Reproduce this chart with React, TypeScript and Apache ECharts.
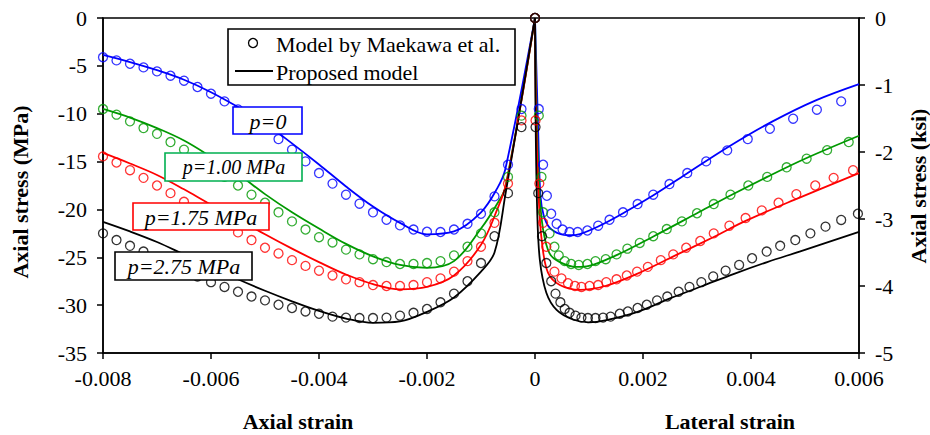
import React, { useEffect, useRef } from "react";
import * as echarts from "echarts";

const FONT = "Liberation Serif";

const xTicks = { min: -0.008, max: 0.006, interval: 0.002 };
const yLeftTicks = { min: -35, max: 0, interval: 5 };
const yRightTicks = { min: -5, max: 0, interval: 1 };

const seriesNames = ["p=0", "p=1.00 MPa", "p=1.75 MPa", "p=2.75 MPa"];
const seriesColors = ["#0000ff", "#009900", "#ff0000", "#000000"];
const boxColors = ["#0000ff", "#00b050", "#ff0000", "#000000"];

// Model by Maekawa et al. (circles)
const blueCirclesAxial = [[-0.008,-4.1],[-0.00775,-4.43],[-0.0075,-4.78],[-0.00725,-5.16],[-0.007,-5.58],[-0.00675,-6.03],[-0.0065,-6.55],[-0.00625,-7.21],[-0.006,-7.91],[-0.00575,-8.71],[-0.0055,-9.55],[-0.00525,-10.5],[-0.005,-11.55],[-0.00475,-12.65],[-0.0045,-13.76],[-0.00425,-14.98],[-0.004,-16.2],[-0.00375,-17.3],[-0.0035,-18.46],[-0.00325,-19.4],[-0.003,-20.3],[-0.00275,-21.08],[-0.0025,-21.67],[-0.00225,-22.1],[-0.002,-22.33],[-0.00175,-22.36],[-0.0015,-22.1],[-0.00125,-21.5],[-0.001,-20.45],[-0.00075,-18.64],[-0.0005,-15.33],[-0.00025,-9.51],[0,0]];
const blueCirclesLateral = [[0.00007,-9.51],[0.00015,-15.33],[0.00022,-18.57],[0.0003,-20.45],[0.0004,-21.5],[0.00051,-22.1],[0.00064,-22.36],[0.00079,-22.36],[0.00097,-22.2],[0.00117,-21.7],[0.00138,-21.08],[0.00163,-20.3],[0.0019,-19.44],[0.00219,-18.46],[0.00249,-17.35],[0.00282,-16.2],[0.00317,-14.98],[0.00356,-13.83],[0.00394,-12.65],[0.00435,-11.57],[0.00478,-10.52],[0.00522,-9.58],[0.00567,-8.71]];

const greenCirclesAxial = [[-0.008,-9.51],[-0.00775,-10.1],[-0.0075,-10.8],[-0.00725,-11.5],[-0.007,-12.1],[-0.00675,-12.96],[-0.0065,-13.76],[-0.00625,-14.7],[-0.006,-15.6],[-0.00575,-16.6],[-0.0055,-17.5],[-0.00525,-18.46],[-0.005,-19.3],[-0.00475,-20.3],[-0.0045,-21.25],[-0.00425,-22.1],[-0.004,-22.9],[-0.00375,-23.45],[-0.0035,-24.2],[-0.00325,-24.7],[-0.003,-25.2],[-0.00275,-25.5],[-0.0025,-25.7],[-0.00225,-25.7],[-0.002,-25.6],[-0.00175,-25.4],[-0.0015,-24.8],[-0.00125,-23.9],[-0.001,-22.5],[-0.00075,-20.3],[-0.0005,-16.6],[-0.00025,-10.2],[0,0]];
const greenCirclesLateral = [[0.00007,-10.2],[0.00012,-16.6],[0.00015,-20.3],[0.00027,-22.5],[0.00036,-23.9],[0.00044,-24.8],[0.00055,-25.4],[0.00067,-25.7],[0.00081,-25.8],[0.00097,-25.7],[0.00112,-25.4],[0.00131,-25.2],[0.00151,-24.7],[0.00171,-24.1],[0.00194,-23.5],[0.00219,-22.8],[0.00244,-22.05],[0.00272,-21.25],[0.003,-20.4],[0.00331,-19.44],[0.00362,-18.46],[0.00395,-17.5],[0.0043,-16.6],[0.00466,-15.6],[0.00503,-14.7],[0.00541,-13.8],[0.00581,-12.96]];

const redCirclesAxial = [[-0.008,-14.46],[-0.00775,-15.1],[-0.0075,-15.9],[-0.00725,-16.7],[-0.007,-17.5],[-0.00675,-18.3],[-0.0065,-19.2],[-0.00625,-20.0],[-0.006,-20.8],[-0.00575,-21.6],[-0.0055,-22.4],[-0.00525,-23.2],[-0.005,-24.0],[-0.00475,-24.6],[-0.0045,-25.3],[-0.00425,-25.9],[-0.004,-26.4],[-0.00375,-26.9],[-0.0035,-27.3],[-0.00325,-27.6],[-0.003,-27.9],[-0.00275,-28.0],[-0.0025,-28.0],[-0.00225,-27.9],[-0.002,-27.6],[-0.00175,-27.2],[-0.0015,-26.5],[-0.00125,-25.4],[-0.001,-23.9],[-0.00075,-21.4],[-0.0005,-17.3],[-0.00025,-10.7],[0,0]];
const redCirclesLateral = [[0.00001,-10.7],[0.00008,-17.3],[0.00015,-21.4],[0.00021,-23.9],[0.00036,-26.5],[0.00049,-27.2],[0.00061,-27.7],[0.00074,-28.0],[0.00086,-28.1],[0.00101,-28.0],[0.00117,-27.9],[0.00132,-27.6],[0.00151,-27.3],[0.0017,-26.9],[0.00189,-26.5],[0.00209,-26.0],[0.00233,-25.3],[0.00256,-24.7],[0.0028,-24.0],[0.00306,-23.3],[0.00331,-22.5],[0.0036,-21.7],[0.0039,-20.9],[0.0042,-20.1],[0.00451,-19.3],[0.00484,-18.4],[0.00519,-17.5],[0.00553,-16.7],[0.00589,-15.9]];

const blackCirclesAxial = [[-0.008,-22.5],[-0.00775,-23.2],[-0.0075,-23.8],[-0.00725,-24.4],[-0.007,-25.1],[-0.00675,-25.8],[-0.0065,-26.4],[-0.00625,-27.0],[-0.006,-27.6],[-0.00575,-28.1],[-0.0055,-28.6],[-0.00525,-29.1],[-0.005,-29.5],[-0.00475,-29.96],[-0.0045,-30.3],[-0.00425,-30.66],[-0.004,-30.9],[-0.00375,-31.2],[-0.0035,-31.3],[-0.00325,-31.35],[-0.003,-31.35],[-0.00275,-31.3],[-0.0025,-31.1],[-0.00225,-30.8],[-0.002,-30.4],[-0.00175,-29.7],[-0.0015,-28.8],[-0.00125,-27.5],[-0.001,-25.6],[-0.00075,-22.8],[-0.0005,-18.3],[-0.00025,-11.4],[0,0]];
const blackCirclesLateral = [[0.00001,-11.4],[0.00006,-18.3],[0.00013,-22.8],[0.00021,-25.6],[0.0003,-27.5],[0.00038,-28.8],[0.00047,-29.7],[0.00055,-30.4],[0.00064,-30.8],[0.00075,-31.1],[0.00086,-31.3],[0.00098,-31.35],[0.00112,-31.35],[0.00126,-31.3],[0.0014,-31.2],[0.00157,-30.9],[0.00172,-30.66],[0.0019,-30.3],[0.00207,-29.96],[0.00226,-29.5],[0.00245,-29.1],[0.00266,-28.6],[0.00286,-28.1],[0.00308,-27.6],[0.0033,-27.0],[0.00353,-26.4],[0.00378,-25.8],[0.00402,-25.1],[0.00429,-24.4],[0.00454,-23.8],[0.00482,-23.2],[0.0051,-22.5],[0.00538,-21.8],[0.00567,-21.1],[0.00598,-20.45]];

// Proposed model (lines)
const blueLineAxial = [[-0.008,-3.85],[-0.0075,-4.6],[-0.007,-5.45],[-0.0065,-6.45],[-0.006,-7.75],[-0.0055,-9.3],[-0.005,-11.0],[-0.0045,-13.1],[-0.004,-15.3],[-0.0035,-17.6],[-0.003,-19.7],[-0.0025,-21.4],[-0.002,-22.6],[-0.0015,-22.3],[-0.001,-20.3],[-0.0007,-17.8],[-0.00055,-15.8],[0,0]];
const blueLineLateral = [[0,0],[0.00006,-12],[0.0001,-18.5],[0.00016,-20.6],[0.00027,-21.9],[0.00046,-22.57],[0.00064,-22.7],[0.00083,-22.57],[0.00117,-21.78],[0.0016,-20.5],[0.0022,-18.5],[0.0028,-16.3],[0.0036,-13.4],[0.0044,-10.8],[0.0052,-8.6],[0.006,-6.9]];
const greenLineAxial = [[-0.008,-9.5],[-0.0075,-10.4],[-0.007,-11.5],[-0.0065,-12.8],[-0.006,-14.5],[-0.0055,-16.3],[-0.005,-18.4],[-0.0045,-20.3],[-0.004,-22.0],[-0.0035,-23.6],[-0.003,-24.9],[-0.0025,-25.8],[-0.002,-26.1],[-0.0015,-25.4],[-0.001,-22.0],[-0.0007,-19.4],[-0.00055,-17.7],[0,0]];
const greenLineLateral = [[0,0],[0.00003,-10],[0.00008,-18],[0.00015,-22.1],[0.00027,-24.6],[0.00046,-25.5],[0.00077,-26.0],[0.001,-25.9],[0.0015,-24.8],[0.0022,-22.8],[0.003,-20.4],[0.0036,-18.6],[0.0043,-16.6],[0.005,-14.7],[0.006,-12.3]];
const redLineAxial = [[-0.008,-14.1],[-0.0075,-15.2],[-0.007,-16.4],[-0.0065,-17.9],[-0.006,-19.5],[-0.0055,-21.0],[-0.005,-22.6],[-0.0045,-24.1],[-0.004,-25.5],[-0.0035,-26.8],[-0.003,-27.8],[-0.0025,-28.35],[-0.002,-28.1],[-0.0015,-26.9],[-0.001,-23.7],[-0.0007,-20.0],[-0.00052,-17.0],[0,0]];
const redLineLateral = [[0,0],[0.00002,-10],[0.00007,-19],[0.00013,-23.5],[0.00024,-26.6],[0.00046,-27.9],[0.00083,-28.4],[0.0013,-28.0],[0.0019,-26.7],[0.0026,-24.8],[0.0033,-22.9],[0.0039,-21.2],[0.0048,-19.0],[0.006,-16.2]];
const blackLineAxial = [[-0.008,-21.3],[-0.0075,-22.3],[-0.007,-23.4],[-0.0065,-24.7],[-0.006,-26.0],[-0.0055,-27.3],[-0.005,-28.5],[-0.0045,-29.6],[-0.004,-30.6],[-0.0035,-31.4],[-0.003,-31.85],[-0.0025,-31.7],[-0.002,-30.7],[-0.0015,-29.2],[-0.001,-26.5],[-0.00075,-24.5],[-0.00055,-18.5],[0,0]];
const blackLineLateral = [[0,0],[0.00001,-10],[0.00004,-20],[0.00009,-25.3],[0.00021,-28.7],[0.0004,-30.5],[0.0007,-31.5],[0.001,-31.8],[0.0013,-31.6],[0.0019,-30.7],[0.0025,-29.3],[0.0031,-28.0],[0.0037,-26.7],[0.0043,-25.5],[0.0049,-24.4],[0.006,-22.35]];

const circleSets = [
  [blueCirclesAxial, blueCirclesLateral],
  [greenCirclesAxial, greenCirclesLateral],
  [redCirclesAxial, redCirclesLateral],
  [blackCirclesAxial, blackCirclesLateral],
];
const lineSets = [
  [blueLineAxial, blueLineLateral],
  [greenLineAxial, greenLineLateral],
  [redLineAxial, redLineLateral],
  [blackLineAxial, blackLineLateral],
];

const legendTexts = ["Model by Maekawa et al.", "Proposed model"];
const xTitles = ["Axial strain", "Lateral strain"];
const yTitles = ["Axial stress (MPa)", "Axial stress (ksi)"];

export default function App() {
  const ref = useRef<HTMLDivElement>(null);
  useEffect(() => {
    if (!ref.current) return;
    const chart = echarts.init(ref.current, null, { renderer: "svg" });
    const axisCommon = {
      axisLine: { onZero: false, lineStyle: { color: "#000", width: 1.5 } },
      axisTick: { inside: false, length: 6, lineStyle: { color: "#000", width: 1.5 } },
      splitLine: { show: false },
    };
    const labelStyle = { fontSize: 22, fontFamily: FONT, color: "#000" };
    const series: any[] = [];
    lineSets.forEach((pair, i) => {
      pair.forEach((d) => {
        series.push({
          type: "line",
          data: d,
          showSymbol: false,
          symbol: "none",
          smooth: 0.35,
          lineStyle: { color: seriesColors[i], width: 1.8 },
          z: 2,
          silent: true,
        });
      });
    });
    circleSets.forEach((pair, i) => {
      pair.forEach((d) => {
        series.push({
          type: "scatter",
          data: d,
          symbol: "circle",
          symbolSize: 9,
          itemStyle: { color: "rgba(0,0,0,0)", borderColor: seriesColors[i], borderWidth: 1.3 },
          z: 3,
          silent: true,
        });
      });
    });

    const txt = (text: string, x: number, y: number, font: string, rotation = 0) => ({
      type: "text",
      x,
      y,
      rotation,
      z: 101,
      style: {
        text,
        font,
        fill: "#000",
        align: "center",
        verticalAlign: "middle",
        textAlign: "center",
        textVerticalAlign: "middle",
      },
    });
    const box = (x: number, y: number, w: number, h: number, color: string) => ({
      type: "rect",
      shape: { x, y, width: w, height: h },
      z: 100,
      style: { fill: "#fff", stroke: color, lineWidth: 1.6 },
    });

    const graphic: any[] = [
      box(228, 29, 287, 56, "#000"),
      { type: "circle", z: 101, shape: { cx: 253, cy: 43, r: 4.5 }, style: { fill: "none", stroke: "#000", lineWidth: 1.3 } },
      { type: "line", z: 101, shape: { x1: 235, y1: 71, x2: 273, y2: 71 }, style: { stroke: "#000", lineWidth: 1.8 } },
      {
        type: "text", x: 276, y: 44, z: 101,
        style: { text: legendTexts[0], font: `22px ${FONT}`, fill: "#000", align: "left", verticalAlign: "middle", textAlign: "left", textVerticalAlign: "middle" },
      },
      {
        type: "text", x: 276, y: 72, z: 101,
        style: { text: legendTexts[1], font: `22px ${FONT}`, fill: "#000", align: "left", verticalAlign: "middle", textAlign: "left", textVerticalAlign: "middle" },
      },
      box(233, 107, 69, 27, boxColors[0]),
      txt(seriesNames[0], 268, 121, `italic 22px ${FONT}`),
      box(165, 153, 137, 28, boxColors[1]),
      txt(seriesNames[1], 234, 167, `italic 20px ${FONT}`),
      box(133, 203, 136, 27, boxColors[2]),
      txt(seriesNames[2], 201, 217, `italic 22px ${FONT}`),
      box(115, 252, 137, 28, boxColors[3]),
      txt(seriesNames[3], 184, 266, `italic 22px ${FONT}`),
      txt(xTitles[0], 298, 421, `bold 22px ${FONT}`),
      txt(xTitles[1], 730, 421, `bold 22px ${FONT}`),
      txt(yTitles[0], 20, 192, `bold 22px ${FONT}`, Math.PI / 2),
      txt(yTitles[1], 918, 186, `bold 22px ${FONT}`, Math.PI / 2),
    ];

    chart.setOption({
      animation: false,
      grid: {
        left: 103, right: 71, top: 18, bottom: 82,
        show: true, borderColor: "#000", borderWidth: 1.5, backgroundColor: "transparent",
      },
      xAxis: {
        type: "value",
        ...xTicks,
        ...axisCommon,
        axisLabel: {
          ...labelStyle,
          margin: 14,
          formatter: (v: number) => (Math.abs(v) < 1e-9 ? "0" : v.toFixed(3)),
        },
      },
      yAxis: [
        {
          type: "value",
          position: "left",
          ...yLeftTicks,
          ...axisCommon,
          axisLabel: { ...labelStyle, margin: 16 },
        },
        {
          type: "value",
          position: "right",
          ...yRightTicks,
          ...axisCommon,
          axisLabel: { ...labelStyle, margin: 16 },
        },
      ],
      series,
      graphic,
    });
    return () => chart.dispose();
  }, []);
  return (
    <div
      ref={ref}
      style={{ position: "fixed", left: 0, top: 0, width: 930, height: 435, background: "#fff" }}
    />
  );
}
